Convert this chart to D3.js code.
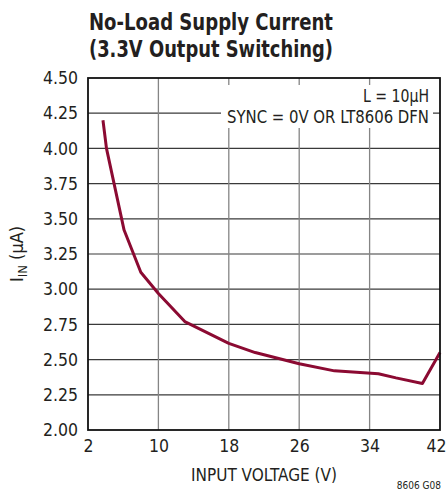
<!DOCTYPE html>
<html><head><meta charset="utf-8">
<script src="https://cdn.jsdelivr.net/npm/d3@7"></script>
<style>
body{margin:0;background:#fff;}
text{font-family:"Liberation Sans Narrow","DejaVu Sans Condensed","DejaVu Sans",sans-serif;fill:#231f20;}
</style></head><body>
<svg id="c" width="447" height="501"></svg>
<script>
const vin = [3.7, 4.1, 6.1, 8.0, 10, 13, 18, 21, 26, 30, 35, 37, 40, 42];
const iin = [4.2, 4.0, 3.42, 3.12, 2.97, 2.77, 2.615, 2.55, 2.47, 2.42, 2.40, 2.37, 2.33, 2.55];
const xTicks = [2, 10, 18, 26, 34, 42];
const yTicks = [2.00, 2.25, 2.50, 2.75, 3.00, 3.25, 3.50, 3.75, 4.00, 4.25, 4.50];
const titleLines = ["No-Load Supply Current", "(3.3V Output Switching)"];
const notes = ["L = 10µH", "SYNC = 0V OR LT8606 DFN"];

const L = 88, T = 78, R = 440, B = 430;
const svg = d3.select("#c");
const x = d3.scaleLinear().domain([2, 42]).range([L, R]);
const y = d3.scaleLinear().domain([2, 4.5]).range([B, T]);

function fit(sel, w) {
  sel.attr("textLength", w).attr("lengthAdjust", "spacingAndGlyphs");
  return sel;
}

// grid
const g = svg.append("g");
g.selectAll(".hg").data(yTicks.slice(1, -1)).join("line")
  .attr("x1", L).attr("x2", R).attr("y1", d => y(d)).attr("y2", d => y(d))
  .attr("stroke", "#3a3a3a").attr("stroke-width", 1.2);
g.selectAll(".vg").data(xTicks.slice(1, -1)).join("line")
  .attr("y1", T).attr("y2", B).attr("x1", d => x(d)).attr("x2", d => x(d))
  .attr("stroke", "#858585").attr("stroke-width", 1.3);

// annotation box (white background)
svg.append("rect").attr("x", 221).attr("y", 85).attr("width", 212).attr("height", 43).attr("fill", "#fff");
fit(svg.append("text").attr("x", 429).attr("y", 102).attr("text-anchor", "end")
  .style("font-size", "17px").text(notes[0]), 66);
fit(svg.append("text").attr("x", 429).attr("y", 123).attr("text-anchor", "end")
  .style("font-size", "17px").text(notes[1]), 202);

// curve
svg.append("path").datum(vin.map((v, i) => [v, iin[i]]))
  .attr("d", d3.line().x(d => x(d[0])).y(d => y(d[1])))
  .attr("fill", "none").attr("stroke", "#8b0a32").attr("stroke-width", 3)
  .attr("stroke-linejoin", "round");

// frame
svg.append("rect").attr("x", L).attr("y", T).attr("width", R - L).attr("height", B - T)
  .attr("fill", "none").attr("stroke", "#111").attr("stroke-width", 1.8);

// axes (labels only)
const xa = svg.append("g").attr("transform", `translate(0,${B})`)
  .call(d3.axisBottom(x).tickValues(xTicks).tickSize(0).tickPadding(10).tickFormat(d3.format("d")));
xa.select(".domain").remove();
xa.selectAll("text").style("font-size", "17.5px").attr("fill", "#231f20");
xa.selectAll("text").filter(d => d === 42).attr("text-anchor", "end").attr("x", 446 - R);
const ya = svg.append("g").attr("transform", `translate(${L},0)`)
  .call(d3.axisLeft(y).tickValues(yTicks).tickSize(0).tickPadding(10).tickFormat(d3.format(".2f")));
ya.select(".domain").remove();
ya.selectAll("text").style("font-size", "17.5px").attr("fill", "#231f20");

// titles
fit(svg.append("text").attr("x", 89).attr("y", 30).style("font-size", "23px").style("font-weight", "bold").text(titleLines[0]), 244);
fit(svg.append("text").attr("x", 89).attr("y", 57).style("font-size", "23px").style("font-weight", "bold").text(titleLines[1]), 244);

fit(svg.append("text").attr("x", 264).attr("y", 481).attr("text-anchor", "middle")
  .style("font-size", "18px").text("INPUT VOLTAGE (V)"), 146);

const yl = svg.append("text").attr("transform", `translate(23,${(T + B) / 2}) rotate(-90)`)
  .attr("text-anchor", "middle").style("font-size", "18px");
yl.append("tspan").text("I");
yl.append("tspan").attr("dy", 4).style("font-size", "13px").text("IN");
yl.append("tspan").attr("dy", -4).text(" (µA)");

svg.append("text").attr("x", 441).attr("y", 489).attr("text-anchor", "end")
  .style("font-size", "10px").text("8606 G08");
</script></body></html>
